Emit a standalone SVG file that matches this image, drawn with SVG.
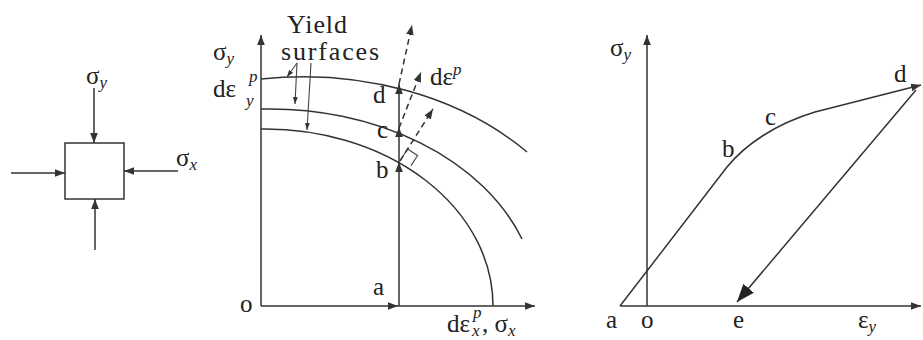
<svg xmlns="http://www.w3.org/2000/svg" width="923" height="340" viewBox="0 0 923 340" font-family="Liberation Serif, DejaVu Serif, serif">
<style>
.ln{stroke:#333;stroke-width:1.5;fill:none}
.th{stroke:#444;stroke-width:1.1;fill:none}
.ds{stroke:#333;stroke-width:1.5;fill:none;stroke-dasharray:6 4}
text{font-family:"Liberation Serif","DejaVu Serif",serif;fill:#222;font-size:25px}
.s{font-size:17px;font-style:italic}
.big{font-size:26px}
</style>
<defs>
<marker id="ah" viewBox="0 0 10 10" refX="10" refY="5" markerWidth="10" markerHeight="10" markerUnits="userSpaceOnUse" orient="auto"><path d="M0,1.2 L10,5 L0,8.8 z" fill="#333"/></marker>
<marker id="sa" viewBox="0 0 10 10" refX="10" refY="5" markerWidth="7" markerHeight="7" markerUnits="userSpaceOnUse" orient="auto"><path d="M0,1.5 L10,5 L0,8.5 z" fill="#333"/></marker>
<marker id="bg" viewBox="0 0 10 10" refX="10" refY="5" markerWidth="18" markerHeight="18" markerUnits="userSpaceOnUse" orient="auto"><path d="M0,1.2 L10,5 L0,8.8 z" fill="#222"/></marker>
</defs>

<g id="element">
<rect x="65" y="143" width="59" height="56" class="ln"/>
<text x="86" y="84">σ<tspan class="s" dy="4">y</tspan></text>
<text x="176" y="166">σ<tspan class="s" dy="4">x</tspan></text>
</g>

<g id="middle-axes">
<text x="213" y="60">σ<tspan class="s" dy="4">y</tspan></text>
<text x="213" y="97">dε</text>
<text x="249" y="82" class="s">p</text>
<text x="246" y="106" class="s">y</text>
<text x="240" y="312">o</text>
<text x="447" y="332">dε</text>
<text x="472" y="336" class="s">x</text>
<text x="473" y="318" class="s">p</text>
<text x="482" y="332">, σ<tspan class="s" dy="4">x</tspan></text>
</g>

<g id="yield-surfaces">
<path class="ln" d="M261,129 A228,177 0 0 1 493,306"/>
<path class="ln" d="M261,109 A268,197 0 0 1 522,239"/>
<path class="ln" d="M261,79 A303,232 0 0 1 527,152"/>
<text x="287" y="33" class="big" textLength="60">Yield</text>
<text x="281" y="60" class="big" textLength="98">surfaces</text>
</g>

<g id="points-mid">
<text x="373" y="103">d</text>
<text x="377" y="138">c</text>
<text x="376" y="178">b</text>
<text x="373" y="295">a</text>
<text x="430" y="85">dε<tspan class="s" dy="-10">p</tspan></text>
<path class="th" d="M401,159 L407.6,149 L417.6,155.5 L411,165.6"/>
</g>

<g id="right-axes">
<text x="610" y="56">σ<tspan class="s" dy="4">y</tspan></text>
<text x="606" y="328">a</text>
<text x="641" y="328">o</text>
<text x="733" y="328">e</text>
<text x="858" y="328">ε<tspan class="s" dy="4">y</tspan></text>
<text x="722" y="157">b</text>
<text x="765" y="125">c</text>
<text x="894" y="82">d</text>
</g>

<g id="connectors">
<line class="ln" x1="94" y1="88" x2="94" y2="143" marker-end="url(#ah)"/>
<line class="ln" x1="95" y1="250" x2="95" y2="199" marker-end="url(#ah)"/>
<line class="ln" x1="11" y1="173" x2="65" y2="173" marker-end="url(#ah)"/>
<line class="ln" x1="178" y1="171" x2="124" y2="171" marker-end="url(#ah)"/>

<line class="ln" x1="261" y1="306" x2="261" y2="35" marker-end="url(#ah)"/>
<line class="ln" x1="261" y1="306" x2="398" y2="306" marker-end="url(#ah)"/>
<line class="ln" x1="398" y1="306" x2="535" y2="306" marker-end="url(#ah)"/>
<line class="ln" x1="399" y1="306" x2="399" y2="162" marker-end="url(#ah)"/>
<line class="ln" x1="399" y1="162" x2="399" y2="127" marker-end="url(#ah)"/>
<line class="ln" x1="399" y1="127" x2="399" y2="84" marker-end="url(#ah)"/>
<line class="ds" x1="399" y1="84" x2="412" y2="25" marker-end="url(#ah)"/>
<line class="ds" x1="399" y1="128" x2="421" y2="72" marker-end="url(#ah)"/>
<line class="ds" x1="400" y1="161" x2="433" y2="109" marker-end="url(#ah)"/>
<line class="th" x1="297" y1="63" x2="287" y2="77" marker-end="url(#sa)"/>
<line class="th" x1="297" y1="63" x2="295" y2="104" marker-end="url(#sa)"/>
<line class="th" x1="311" y1="63" x2="307" y2="130" marker-end="url(#sa)"/>

<line class="ln" x1="647" y1="306" x2="647" y2="35" marker-end="url(#ah)"/>
<line class="ln" x1="620" y1="306" x2="921" y2="306" marker-end="url(#ah)"/>
<path class="ln" d="M620,306 L727,167 C745,145 775,124 815,112 L921,85" marker-end="url(#ah)"/>
<line class="ln" x1="916" y1="90" x2="737" y2="302" marker-end="url(#bg)"/>
</g>
</svg>
